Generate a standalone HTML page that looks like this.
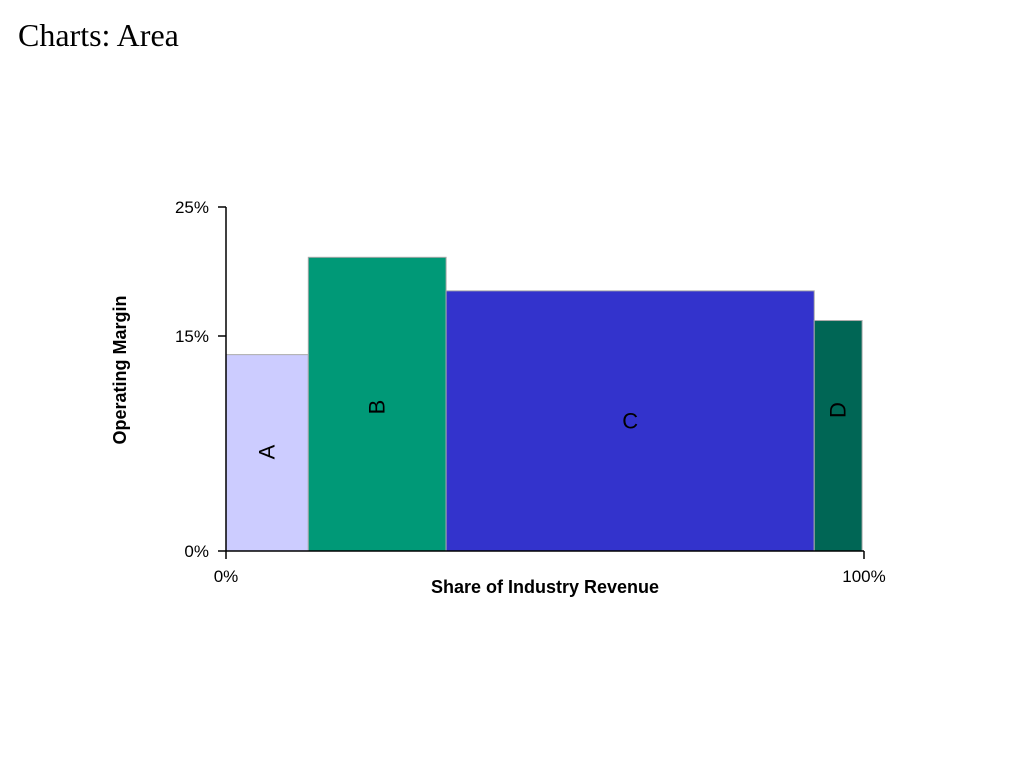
<!DOCTYPE html>
<html><head><meta charset="utf-8"><style>
body{margin:0;background:#fff;width:1024px;height:768px;overflow:hidden}
svg text{font-family:"Liberation Sans",sans-serif}
</style></head><body>
<svg width="1024" height="768" xmlns="http://www.w3.org/2000/svg">
<text x="18" y="46" font-family="Liberation Serif" style="font-family:'Liberation Serif',serif" font-size="32">Charts: Area</text>
<g id="bars"></g>
<g id="axes"></g>
</svg>
<script>
const categories = ["A","B","C","D"];
const shares = [12.9, 21.6, 57.7, 7.5];
const margins = [13.7, 21.1, 18.5, 16.2];
const colors = ["#ccccff","#009977","#3333cc","#006655"];
const yTicks = [0, 15, 25];
const yTickLabels = ["0%","15%","25%"];
const xTickLabels = ["0%","100%"];
const NS="http://www.w3.org/2000/svg";
const X0=226,X1=864;
function xs(v){return X0+(X1-X0)*v/100;}
function ys(v){ // piecewise axis matching labelled ticks
  const py=[551,336,207];
  if(v<=15) return py[0]+(py[1]-py[0])*v/15;
  return py[1]+(py[2]-py[1])*(v-15)/10;
}
function mk(tag,attrs,parent){const e=document.createElementNS(NS,tag);for(const k in attrs)e.setAttribute(k,attrs[k]);parent.appendChild(e);return e;}
const bars=document.getElementById('bars'), axes=document.getElementById('axes');
let cum=0;
categories.forEach((c,i)=>{
  const xa=xs(cum), xb=xs(cum+shares[i]); cum+=shares[i];
  const yt=ys(margins[i]), yb=ys(0);
  const r=mk('rect',{x:xa,y:yt,width:xb-xa,height:yb-yt,fill:colors[i],stroke:'#aaaaaa','stroke-width':1},bars);
  
  
  const cx=(xa+xb)/2, cy=c==="A"?452:(c==="C"?(yt+yb)/2:(c==="B"?407:410));
  const t=mk('text',{x:cx,y:cy,'font-size':22,'text-anchor':'middle','dominant-baseline':'central',fill:'#000'},bars);
  if(c!=="C") t.setAttribute('transform','rotate(-90 '+cx+' '+cy+')');
  t.textContent=c;
  
  
});
const ya=mk('line',{x1:X0,y1:ys(25),x2:X0,y2:ys(0),stroke:'#000','stroke-width':1.5},axes);


const xa=mk('line',{x1:X0,y1:ys(0),x2:X1,y2:ys(0),stroke:'#000','stroke-width':1.5},axes);


yTicks.forEach((v,i)=>{
  const y=ys(v);
  const l=mk('line',{x1:X0-8,y1:y,x2:X0,y2:y,stroke:'#000','stroke-width':1.5},axes);
  
  
  const t=mk('text',{x:X0-17,y:y+6,'font-size':17,'text-anchor':'end'},axes);
  t.textContent=yTickLabels[i];
  
  
});
[0,100].forEach((v,i)=>{
  const x=xs(v);
  const l=mk('line',{x1:x,y1:ys(0),x2:x,y2:ys(0)+8,stroke:'#000','stroke-width':1.5},axes);
  
  
  const t=mk('text',{x:x,y:ys(0)+31,'font-size':17,'text-anchor':'middle'},axes);
  t.textContent=xTickLabels[i];
  
  
});
const xt=mk('text',{x:545,y:593,'font-size':18,'font-weight':'bold','text-anchor':'middle'},axes);
xt.textContent="Share of Industry Revenue";


const yt=mk('text',{x:126,y:370,'font-size':18,'font-weight':'bold','text-anchor':'middle',transform:'rotate(-90 126 370)'},axes);
yt.textContent="Operating Margin";


</script>
</body></html>
